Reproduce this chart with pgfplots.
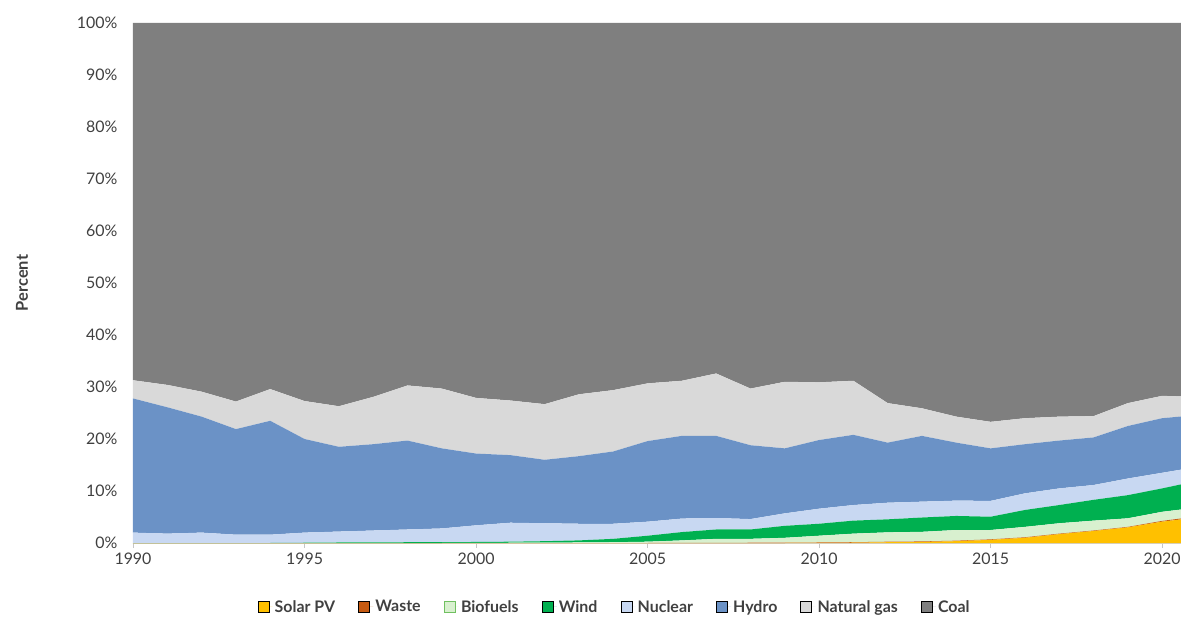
\documentclass[border=0pt]{standalone}
\usepackage{pgfplots}
\pgfplotsset{compat=1.18}
\usepackage{pgfplotstable}
\usepackage{fontspec}
\setmainfont{Lato}
\definecolor{solar}{HTML}{FFC000}
\definecolor{waste}{HTML}{C55A11}
\definecolor{bio}{HTML}{D8F0CF}
\definecolor{biodraw}{HTML}{70C060}
\definecolor{wind}{HTML}{00B050}
\definecolor{nuclear}{HTML}{C8D8F2}
\definecolor{hydro}{HTML}{6B92C6}
\definecolor{gas}{HTML}{D9D9D9}
\definecolor{coal}{HTML}{7F7F7F}
\definecolor{txt}{HTML}{404040}

\pgfplotstableread{
year solar waste bio wind nuclear hydro gas coal
1990 0 0 0 0 2.0 25.8 3.5 68.7
1991 0 0 0 0 1.8 24.3 4.3 69.6
1992 0 0 0 0 2.0 22.3 4.8 70.9
1993 0 0 0 0 1.6 20.3 5.3 72.8
1994 0 0 0 0 1.6 21.9 6.1 70.4
1995 0 0 0 0.05 1.95 18.0 7.3 72.7
1996 0 0 0 0.1 2.1 16.3 7.8 73.7
1997 0 0 0 0.1 2.3 16.6 9.1 71.9
1998 0 0 0 0.15 2.45 17.1 10.6 69.7
1999 0 0 0 0.15 2.65 15.4 11.5 70.3
2000 0 0 0.02 0.18 3.2 13.8 10.7 72.1
2001 0 0 0.05 0.2 3.65 13.0 10.5 72.6
2002 0 0 0.08 0.27 3.45 12.2 10.7 73.3
2003 0 0 0.1 0.4 3.2 13.0 11.9 71.4
2004 0 0 0.15 0.65 2.9 13.9 11.8 70.6
2005 0 0 0.25 1.15 2.7 15.5 11.1 69.3
2006 0 0.02 0.48 1.6 2.6 15.9 10.6 68.8
2007 0 0.03 0.77 1.8 2.2 15.8 12.0 67.4
2008 0 0.05 0.75 1.8 2.0 14.2 10.9 70.3
2009 0 0.05 0.95 2.3 2.4 12.5 12.8 69.0
2010 0.02 0.08 1.3 2.3 2.9 13.2 11.1 69.1
2011 0.05 0.1 1.65 2.5 3.0 13.5 10.4 68.8
2012 0.15 0.1 1.8 2.5 3.2 11.55 7.6 73.1
2013 0.2 0.1 1.85 2.75 3.05 12.65 5.3 74.1
2014 0.35 0.1 2.05 2.7 2.95 11.15 5.0 75.7
2015 0.6 0.1 1.8 2.55 3.05 10.1 5.1 76.7
2016 1.0 0.1 2.0 3.25 3.2 9.45 5.0 76.0
2017 1.7 0.1 2.0 3.5 3.2 9.2 4.6 75.7
2018 2.3 0.1 1.9 4.0 2.85 9.15 4.1 75.6
2019 3.0 0.1 1.65 4.45 3.2 10.1 4.4 73.1
2020 4.1 0.15 1.75 4.5 3.0 10.5 4.3 71.7
2021 4.9 0.2 1.7 5.1 2.7 10.0 3.5 71.9
}\data

\begin{document}
\begin{tikzpicture}
\begin{axis}[
  scale only axis,
  width=1048bp, height=520bp,
  xmin=1990, xmax=2020.55,
  ymin=0, ymax=100,
  stack plots=y,
  axis x line*=bottom,
  axis y line*=left,
  x axis line style={draw=gray!35, line width=0.6pt},
  y axis line style={draw=none},
  xtick={1990,1995,...,2020},
  ytick={0,10,...,100},
  tick align=outside,
  major tick length=5bp,
  xtick style={draw=gray!45, line width=0.6pt},
  ytick style={draw=none},
  /pgf/number format/assume math mode=true,
  /pgf/number format/1000 sep={},
  ticklabel style={font=\fontsize{16}{18}\selectfont, text=txt},
  yticklabel={\pgfmathprintnumber{\tick}\%},
  yticklabel style={xshift=-7bp},
  xticklabel style={yshift=-1bp},
  ylabel={Percent},
  ylabel style={font=\fontsize{16.5}{18}\selectfont\bfseries, text=txt, at={(axis description cs:-0.106,0.5)}, anchor=center},
  legend image code/.code={\path (0bp,0bp) -- (15bp,0bp); \draw[#1] (0bp,-5.5bp) rectangle (11bp,5.5bp);},
  legend style={at={(0.4595,-0.123)}, anchor=center, draw=none, fill=none,
    legend columns=8, font=\fontsize{16}{18}\selectfont\bfseries, text=txt,
    /tikz/every even column/.append style={column sep=21bp},
    inner sep=0pt},
]
\addplot[fill=solar, draw=none] table[x=year, y=solar]{\data} \closedcycle;
\addplot[fill=waste, draw=none] table[x=year, y=waste]{\data} \closedcycle;
\addplot[fill=bio, draw=none, legend image post style={draw=biodraw, line width=0.8pt}] table[x=year, y=bio]{\data} \closedcycle;
\addplot[fill=wind, draw=none] table[x=year, y=wind]{\data} \closedcycle;
\addplot[fill=nuclear, draw=none] table[x=year, y=nuclear]{\data} \closedcycle;
\addplot[fill=hydro, draw=none] table[x=year, y=hydro]{\data} \closedcycle;
\addplot[fill=gas, draw=none] table[x=year, y=gas]{\data} \closedcycle;
\addplot[fill=coal, draw=none] table[x=year, y=coal]{\data} \closedcycle;
\legend{Solar PV, Waste, Biofuels, Wind, Nuclear, Hydro, Natural gas, Coal}
\end{axis}
\pgfresetboundingbox
\path[use as bounding box] ([shift={(-133bp,-78bp)}]current axis.south west) rectangle ([shift={(0bp,23bp)}]current axis.north east);
\end{tikzpicture}
\end{document}
